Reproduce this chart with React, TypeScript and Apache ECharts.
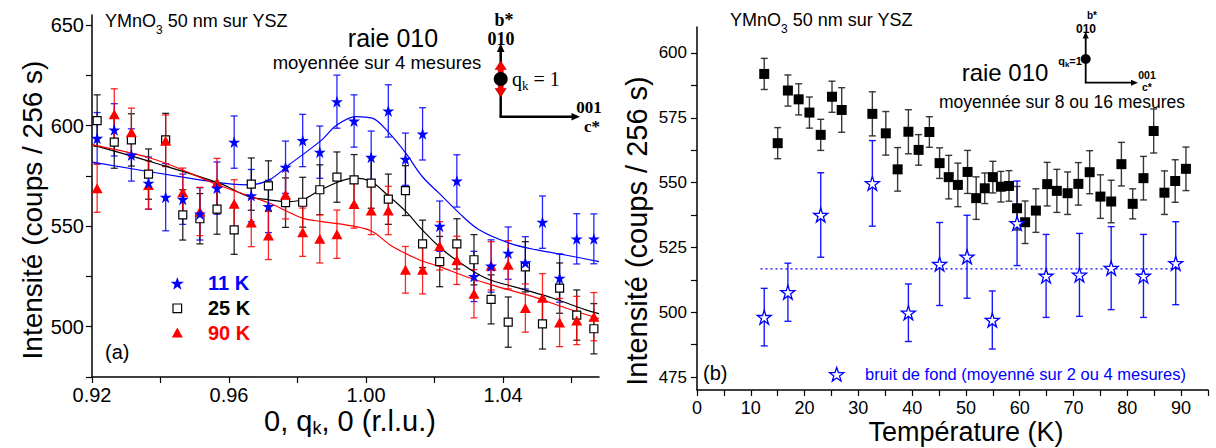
import React, { useEffect, useRef } from 'react';
import * as echarts from 'echarts';

// ---------- Panel (a): intensity vs q_k ----------
const qValues = [0.9215, 0.9265, 0.9315, 0.9365, 0.9415, 0.9465, 0.9515, 0.9565, 0.9615, 0.9665,
  0.9715, 0.9765, 0.9815, 0.9865, 0.9915, 0.9965, 1.0015, 1.0065, 1.0115, 1.0165,
  1.0215, 1.0265, 1.0315, 1.0365, 1.0415, 1.0465, 1.0515, 1.0565, 1.0615, 1.0665];

const i11K = [593.7, 597.9, 585.4, 571.4, 564.4, 563.4, 556.1, 568.9, 591.8, 565.2,
  559.8, 579.3, 592.6, 586.8, 611.9, 602.3, 584.3, 607.3, 583.3, 595.9,
  550.0, 572.5, 525.0, 530.2, 536.6, 531.8, 552.0, 524.2, 543.7, 543.7];
const e11K = [12.8, 13, 13, 13, 16.7, 12.5, 13, 13, 13, 13,
  13, 13, 13, 13, 13.2, 13, 13, 13, 13, 13,
  12.5, 13, 12.5, 13, 13, 13, 13, 12, 12.5, 12.4];

const i25K = [602.5, 591.8, 592.9, 575.9, 592.9, 555.6, 553.7, 558.5, 548.2, 570.9,
  570.0, 561.7, 561.9, 568.1, 574.4, 573.0, 571.4, 563.4, 567.7, 541.2,
  532.4, 541.2, 533.3, 513.6, 502.3, 529.8, 501.4, 519.2, 505.8, 499.0];
const e25K = [12.8, 13, 13, 12.5, 13.2, 12.5, 12.5, 12.5, 12.2, 13,
  12.5, 12.3, 12.4, 12.4, 12.5, 12.6, 12.5, 12.5, 12.4, 11.8,
  12.5, 12.5, 12.5, 12.2, 12.5, 12.5, 12.5, 12.5, 12.5, 12.5];

const i90K = [568.9, 605.7, 596.7, 570.5, 592.5, 566.9, 557.3, 571.7, 561.1, 551.8,
  545.4, 565.6, 547.0, 543.7, 546.0, 561.0, 557.8, 557.8, 528.3, 528.3,
  540.2, 533.0, 516.4, 530.3, 530.8, 509.3, 514.4, 502.1, 503.1, 505.0];
const e90K = [12, 12.6, 12, 12, 12.8, 12, 12, 12, 12, 12,
  12, 12, 12, 12, 12, 12, 12, 12, 11.6, 12,
  12, 12, 12, 12, 12, 12, 12, 12, 12, 12];

const fit11K = [[0.9201, 581.8], [0.9483, 573.9], [0.9609, 570.9], [0.9658, 570.5], [0.9717, 573.0],
  [0.9775, 580.5], [0.9871, 592.9], [0.9912, 599.9], [0.9970, 604.5], [1.0018, 603.7],
  [1.0067, 596.4], [1.0116, 586.3], [1.0164, 574.7], [1.0213, 566.4], [1.0272, 556.5],
  [1.0330, 548.2], [1.0418, 541.6], [1.0495, 538.3], [1.0593, 535.3], [1.0680, 532.4]];
const fit25K = [[0.9201, 590.4], [0.9386, 581.3], [0.9571, 571.4], [0.9658, 564.7], [0.9717, 563.1],
  [0.9770, 562.2], [0.9819, 563.4], [0.9868, 568.1], [0.9965, 573.9], [1.0014, 572.2],
  [1.0062, 565.6], [1.0121, 556.5], [1.0155, 549.8], [1.0213, 539.9], [1.0262, 533.3],
  [1.0349, 524.2], [1.0447, 519.2], [1.0544, 514.3], [1.0641, 508.4], [1.0680, 506.5]];
const fit90K = [[0.9201, 590.4], [0.9386, 583.0], [0.9580, 569.7], [0.9717, 561.5], [0.9814, 554.0],
  [0.9872, 552.3], [0.9970, 549.8], [1.0018, 547.3], [1.0077, 539.9], [1.0155, 533.3],
  [1.0213, 530.0], [1.0291, 525.0], [1.0388, 519.7], [1.0485, 515.1], [1.0583, 509.3],
  [1.0680, 504.0]];

const leftXTicks = [0.92, 0.94, 0.96, 0.98, 1.0, 1.02, 1.04, 1.06];
const leftXLabels = [0.92, 0.96, 1.0, 1.04];
const leftYTicks = [475, 500, 525, 550, 575, 600, 625, 650];
const leftYLabels = [500, 550, 600, 650];

// ---------- Panel (b): intensity vs temperature ----------
const tempPeak = [12.5, 15.0, 16.9, 18.9, 20.9, 23.0, 25.1, 26.9, 32.6, 35.1,
  37.3, 39.3, 41.2, 43.2, 45.1, 46.8, 48.5, 50.3, 51.9, 53.5,
  55.0, 56.5, 58.0, 59.5, 61.0, 63.0, 65.1, 66.9, 68.9, 70.9,
  73.0, 75.0, 77.0, 78.9, 81.0, 83.0, 84.9, 86.9, 88.9, 90.9];
const iPeak = [591.9, 565.2, 585.5, 582.1, 577.0, 568.4, 583.1, 578.0, 576.5, 569.0,
  555.1, 569.6, 562.6, 569.5, 557.5, 552.1, 549.1, 554.1, 544.0, 547.8,
  552.1, 548.4, 548.7, 540.1, 534.7, 539.2, 549.4, 546.8, 545.9, 549.5,
  554.0, 544.6, 542.7, 557.1, 541.8, 551.7, 569.9, 546.1, 550.6, 555.3];
const ePeak = [6, 6, 6, 6, 6, 6, 6, 8.6, 8.5, 8.4,
  8.4, 8.5, 5.9, 5.9, 5.9, 8.4, 8.4, 8.3, 8.2, 5.9,
  6.1, 5.9, 5.9, 8.4, 8.2, 8.4, 8.4, 8.3, 8.2, 8.2,
  8.3, 8.4, 8.2, 8.4, 5.8, 8.4, 8.5, 8.4, 8.2, 8.4];

const tempBg = [12.5, 16.9, 23.0, 32.6, 39.3, 45.1, 50.2, 54.9, 59.5, 64.9, 71.1, 77.0, 83.0, 89.0];
const iBg = [498.1, 507.7, 537.5, 549.7, 499.8, 518.6, 521.4, 497.0, 534.3, 514.0, 514.4, 517.0, 514.0, 518.9];
const eBg = [11.1, 11.2, 16.3, 16.5, 11.1, 16, 16, 11.2, 16.3, 16, 16, 16, 16, 16];
const bgMeanLine = [[11.8, 516.7], [89.5, 516.7]];

const rightXTicks = [0, 5, 10, 15, 20, 25, 30, 35, 40, 45, 50, 55, 60, 65, 70, 75, 80, 85, 90, 95];
const rightXLabels = [0, 10, 20, 30, 40, 50, 60, 70, 80, 90];
const rightYTicks = [475, 487.5, 500, 512.5, 525, 537.5, 550, 562.5, 575, 587.5, 600];
const rightYLabels = [475, 500, 525, 550, 575, 600];

const FONT = '"Liberation Sans", Arial, Helvetica, sans-serif';
const SERIF = '"Liberation Serif", "Times New Roman", serif';
const BLUE = '#0000ff';
const RED = '#ff0000';
const STAR = 'path://M50,0 L61.2,34.5 L97.6,34.5 L68.2,55.9 L79.4,90.5 L50,69.1 L20.6,90.5 L31.8,55.9 L2.4,34.5 L38.8,34.5 Z';

function starPoints(cx: number, cy: number, R: number) {
  const pts: number[][] = [];
  for (let k = 0; k < 10; k++) {
    const r = k % 2 === 0 ? R : R * 0.4;
    const a = -Math.PI / 2 + (k * Math.PI) / 5;
    pts.push([cx + r * Math.cos(a), cy + r * Math.sin(a)]);
  }
  return pts;
}

function errSeries(xs: number[], ys: number[], es: number[], color: string, idx: number, cap: number, width: number, opacity: number) {
  return {
    type: 'custom',
    xAxisIndex: idx,
    yAxisIndex: idx,
    data: xs.map((x, i) => [x, ys[i], es[i]]),
    encode: { x: 0, y: 1 },
    z: 2,
    renderItem: (_params: any, api: any) => {
      const x = api.value(0);
      const y = api.value(1);
      const e = api.value(2);
      const t = api.coord([x, y + e]);
      const b = api.coord([x, y - e]);
      const s = { stroke: color, lineWidth: width, opacity };
      return {
        type: 'group',
        children: [
          { type: 'line', shape: { x1: t[0], y1: t[1], x2: b[0], y2: b[1] }, style: s },
          { type: 'line', shape: { x1: t[0] - cap, y1: t[1], x2: t[0] + cap, y2: t[1] }, style: s },
          { type: 'line', shape: { x1: b[0] - cap, y1: b[1], x2: b[0] + cap, y2: b[1] }, style: s },
        ],
      };
    },
  };
}

function txt(x: number, y: number, text: string, opts: any = {}) {
  return {
    type: 'text',
    x,
    y,
    rotation: opts.rotation || 0,
    z: 10,
    style: {
      text,
      fill: opts.fill || '#000',
      fontSize: opts.fontSize || 18,
      fontFamily: opts.fontFamily || FONT,
      fontWeight: opts.fontWeight || 'normal',
      align: opts.align || 'center',
      verticalAlign: 'middle',
      lineHeight: opts.lineHeight,
      rich: opts.rich,
    },
  };
}

function subRich(size: number, subSize: number, lh: number, family: string, weight: string, fill: string) {
  return {
    a: { fontSize: size, fontFamily: family, fontWeight: weight, fill, lineHeight: lh, verticalAlign: 'middle' },
    b: { fontSize: subSize, fontFamily: family, fontWeight: weight, fill, verticalAlign: 'bottom' },
  };
}

export default function App() {
  const ref = useRef<HTMLDivElement>(null);
  useEffect(() => {
    if (!ref.current) return;
    const chart = echarts.init(ref.current, undefined, { renderer: 'svg' });

    const axisCommon = (ticks: number[], labels: number[], fs: number, margin: number, fmt?: (v: number) => string) => ({
      type: 'value',
      axisLine: { show: true, onZero: false, lineStyle: { color: '#000', width: 1.5 } },
      axisTick: { show: true, inside: false, length: 6, customValues: ticks, lineStyle: { color: '#000', width: 1.2 } },
      axisLabel: {
        customValues: labels,
        fontSize: fs,
        fontFamily: FONT,
        color: '#000',
        margin,
        formatter: fmt,
        showMinLabel: true,
        showMaxLabel: true,
      },
      splitLine: { show: false },
    });

    const option: any = {
      animation: false,
      grid: [
        { left: 92, top: 15, width: 507, height: 362, outerBoundsMode: 'none' },
        { left: 697, top: 27, width: 511, height: 363, outerBoundsMode: 'none' },
      ],
      xAxis: [
        { ...axisCommon(leftXTicks, leftXLabels, 20, 8, (v: number) => Number(v).toFixed(2)), gridIndex: 0, min: 0.92, max: 1.068 },
        { ...axisCommon(rightXTicks, rightXLabels, 18, 9), gridIndex: 1, min: 0, max: 95 },
      ],
      yAxis: [
        { ...axisCommon(leftYTicks, leftYLabels, 20, 8), gridIndex: 0, min: 475, max: 655 },
        { ...axisCommon(rightYTicks, rightYLabels, 17, 10), gridIndex: 1, min: 470, max: 610 },
      ],
      series: [
        errSeries(qValues, i11K, e11K, BLUE, 0, 3.5, 1.3, 0.85),
        errSeries(qValues, i25K, e25K, '#000', 0, 3.5, 1.3, 0.85),
        errSeries(qValues, i90K, e90K, RED, 0, 3.5, 1.3, 0.85),
        { type: 'line', xAxisIndex: 0, yAxisIndex: 0, data: fit11K, smooth: 0.35, showSymbol: false, lineStyle: { color: BLUE, width: 1.2 }, z: 3 },
        { type: 'line', xAxisIndex: 0, yAxisIndex: 0, data: fit25K, smooth: 0.35, showSymbol: false, lineStyle: { color: '#000', width: 1.2 }, z: 3 },
        { type: 'line', xAxisIndex: 0, yAxisIndex: 0, data: fit90K, smooth: 0.35, showSymbol: false, lineStyle: { color: RED, width: 1.2 }, z: 3 },
        { type: 'scatter', xAxisIndex: 0, yAxisIndex: 0, data: qValues.map((q, i) => [q, i25K[i]]), symbol: 'rect', symbolSize: 8, itemStyle: { color: '#fff', borderColor: '#000', borderWidth: 1.2, opacity: 1 }, z: 4 },
        { type: 'scatter', xAxisIndex: 0, yAxisIndex: 0, data: qValues.map((q, i) => [q, i90K[i]]), symbol: 'triangle', symbolSize: [11, 10], itemStyle: { color: RED, opacity: 1 }, z: 4 },
        { type: 'scatter', xAxisIndex: 0, yAxisIndex: 0, data: qValues.map((q, i) => [q, i11K[i]]), symbol: STAR, symbolSize: 12, itemStyle: { color: BLUE, opacity: 1 }, z: 5 },

        errSeries(tempBg, iBg, eBg, BLUE, 1, 3.5, 1.4, 0.9),
        errSeries(tempPeak, iPeak, ePeak, '#222', 1, 3.5, 1.4, 0.9),
        { type: 'line', xAxisIndex: 1, yAxisIndex: 1, data: bgMeanLine, showSymbol: false, lineStyle: { color: BLUE, width: 1.2, type: [2, 3] }, z: 3 },
        { type: 'scatter', xAxisIndex: 1, yAxisIndex: 1, data: tempPeak.map((t, i) => [t, iPeak[i]]), symbol: 'rect', symbolSize: 10, itemStyle: { color: '#000', opacity: 1 }, z: 4 },
        { type: 'scatter', xAxisIndex: 1, yAxisIndex: 1, data: tempBg.map((t, i) => [t, iBg[i]]), symbol: STAR, symbolSize: 14, itemStyle: { color: '#fff', borderColor: BLUE, borderWidth: 1.3, opacity: 1 }, z: 5 },
      ],
      graphic: [
        // Panel (a) texts
        txt(105, 21, '{a|YMnO}{b|3}{a| 50 nm sur YSZ}', { align: 'left', rich: subRich(18, 12, 30, FONT, 'normal', '#000') }),
        txt(393, 38, 'raie 010', { fontSize: 25 }),
        txt(377, 62, 'moyennée sur 4 mesures', { fontSize: 18.5 }),
        // inset (a)
        { type: 'line', shape: { x1: 500.7, y1: 50, x2: 500.7, y2: 116.7 }, style: { stroke: '#000', lineWidth: 2.5 }, z: 10 },
        { type: 'line', shape: { x1: 499.5, y1: 116.7, x2: 573, y2: 116.7 }, style: { stroke: '#000', lineWidth: 2.5 }, z: 10 },
        { type: 'polygon', shape: { points: [[500.7, 43.5], [504.5, 52], [496.9, 52]] }, style: { fill: '#000' }, z: 10 },
        { type: 'polygon', shape: { points: [[580, 116.7], [571.5, 112.9], [571.5, 120.5]] }, style: { fill: '#000' }, z: 10 },
        { type: 'polygon', shape: { points: [[500.7, 61], [506.2, 69.5], [503.2, 69.5], [503.2, 88.5], [506.2, 88.5], [500.7, 97], [495.2, 88.5], [498.2, 88.5], [498.2, 69.5], [495.2, 69.5]] }, style: { fill: RED, stroke: '#900', lineWidth: 0.6 }, z: 11 },
        { type: 'circle', shape: { cx: 500.7, cy: 79, r: 7 }, style: { fill: '#000' }, z: 12 },
        txt(504, 20, 'b*', { fontFamily: SERIF, fontWeight: 'bold', fontSize: 18 }),
        txt(501, 39, '010', { fontFamily: SERIF, fontWeight: 'bold', fontSize: 18 }),
        txt(512, 79, '{a|q}{b|k}{a| = 1}', { align: 'left', rich: subRich(20, 13, 26, SERIF, 'normal', '#000') }),
        txt(589, 107, '001', { fontFamily: SERIF, fontWeight: 'bold', fontSize: 17 }),
        txt(592, 126, 'c*', { fontFamily: SERIF, fontWeight: 'bold', fontSize: 17 }),
        // legend (a)
        { type: 'polygon', shape: { points: starPoints(177.3, 284, 7) }, style: { fill: BLUE }, z: 10 },
        txt(208, 283.3, '11 K', { align: 'left', fontWeight: 'bold', fontSize: 20, fill: BLUE }),
        { type: 'rect', shape: { x: 173, y: 304, width: 8.6, height: 8.6 }, style: { fill: '#fff', stroke: '#000', lineWidth: 1.2 }, z: 10 },
        txt(208, 308.3, '25 K', { align: 'left', fontWeight: 'bold', fontSize: 20, fill: '#000' }),
        { type: 'polygon', shape: { points: [[177.3, 327.5], [182.8, 337.5], [171.8, 337.5]] }, style: { fill: RED }, z: 10 },
        txt(208, 333.3, '90 K', { align: 'left', fontWeight: 'bold', fontSize: 20, fill: RED }),
        txt(105, 352, '(a)', { align: 'left', fontSize: 20 }),
        txt(32, 210, 'Intensité (coups / 256 s)', { fontSize: 28, rotation: Math.PI / 2 }),
        txt(350, 421, '{a|0, q}{b|k}{a|, 0 (r.l.u.)}', { rich: subRich(29, 18, 31, FONT, 'normal', '#000') }),

        // Panel (b) texts
        txt(730, 20, '{a|YMnO}{b|3}{a| 50 nm sur YSZ}', { align: 'left', rich: subRich(18, 12, 30, FONT, 'normal', '#000') }),
        txt(1005, 72, 'raie 010', { fontSize: 24 }),
        txt(1062, 102, 'moyennée sur 8 ou 16 mesures', { fontSize: 17.5, lineHeight: 17 }),
        // inset (b)
        { type: 'line', shape: { x1: 1085.7, y1: 37, x2: 1085.7, y2: 82.7 }, style: { stroke: '#000', lineWidth: 1.8 }, z: 10 },
        { type: 'line', shape: { x1: 1084.8, y1: 82.7, x2: 1132, y2: 82.7 }, style: { stroke: '#000', lineWidth: 1.8 }, z: 10 },
        { type: 'polygon', shape: { points: [[1085.7, 31.5], [1088.7, 38.5], [1082.7, 38.5]] }, style: { fill: '#000' }, z: 10 },
        { type: 'polygon', shape: { points: [[1138, 82.7], [1131, 79.7], [1131, 85.7]] }, style: { fill: '#000' }, z: 10 },
        { type: 'circle', shape: { cx: 1085.7, cy: 59, r: 5 }, style: { fill: '#000' }, z: 12 },
        txt(1092, 15, 'b*', { fontSize: 10, fontWeight: 'bold' }),
        txt(1086, 28.5, '010', { fontSize: 12, fontWeight: 'bold' }),
        txt(1070, 61, '{a|q}{b|k}{a|=1}', { rich: subRich(11, 8, 14, FONT, 'bold', '#000') }),
        txt(1147, 75, '001', { fontSize: 10.5, fontWeight: 'bold', lineHeight: 11 }),
        txt(1147, 87, 'c*', { fontSize: 10.5, fontWeight: 'bold', lineHeight: 10 }),
        txt(703, 373, '(b)', { align: 'left', fontSize: 20 }),
        { type: 'polygon', shape: { points: starPoints(836.7, 375, 7.5) }, style: { fill: '#fff', stroke: BLUE, lineWidth: 1.3 }, z: 10 },
        txt(865, 374, 'bruit de fond (moyenné sur 2 ou 4 mesures)', { align: 'left', fontSize: 16.5, fill: BLUE }),
        txt(637, 231, 'Intensité (coups / 256 s)', { fontSize: 29, rotation: Math.PI / 2 }),
        txt(966, 432, 'Température (K)', { fontSize: 27, lineHeight: 28 }),
      ],
    };
    chart.setOption(option);
    return () => chart.dispose();
  }, []);
  return <div ref={ref} style={{ position: 'fixed', left: 0, top: 0, width: 1216, height: 448, background: '#fff' }} />;
}
